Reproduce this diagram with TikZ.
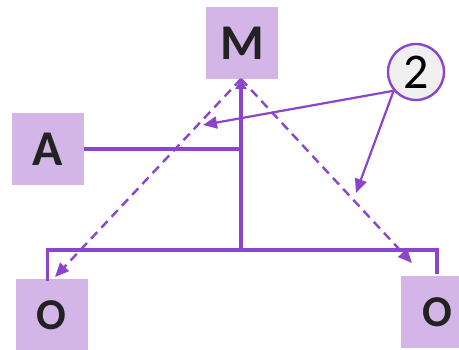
\documentclass[tikz,border=0pt]{standalone}
\usepackage{fontspec}
\setmainfont{Carlito}
\usetikzlibrary{arrows.meta}
\definecolor{pline}{HTML}{8B44CC}
\definecolor{pbox}{HTML}{D3B5E8}
\definecolor{ptext}{HTML}{222222}
\definecolor{cfill}{HTML}{F0F0F0}
\tikzset{
  box/.style={fill=pbox, minimum size=72pt, inner sep=0pt, text=ptext, font=\fontsize{50}{50}\selectfont\bfseries},
  obox/.style={box, font=\fontsize{44}{44}\selectfont\bfseries},
  wire/.style={draw=pline, line width=3.5pt},
  dashline/.style={draw=pline, line width=2.4pt, dash pattern=on 9pt off 6pt, -{Triangle[length=14pt,width=12pt]}},
  callout/.style={draw=pline, line width=2.2pt, -{Triangle[length=14pt,width=12pt]}},
  badge/.style={circle, draw=pline, line width=2.4pt, fill=cfill, minimum size=56pt, inner sep=0pt, text=black, font=\fontsize{50}{50}\selectfont}
}
\begin{document}
\begin{tikzpicture}[x=1pt,y=-1pt]
\useasboundingbox (0,0) rectangle (459,350);
\begin{scope}
\clip (0,0) rectangle (459,350);
\node[box] (M) at (242,43) {M};
\node[box] (A) at (47.5,149.5) {A};
\node[obox] (O1) at (51.5,315) {O};
\node[obox] (O2) at (437,312) {O};
\node[badge] (c) at (416,72) {2};
\coordinate (top) at (241,79);
\coordinate (junA) at (241,149);
\coordinate (bus) at (241,250);
\coordinate (busL) at (47.5,250);
\coordinate (busR) at (437,250);
\coordinate (tipL) at (55,277);
\coordinate (tipR) at (412,263);
\coordinate (tipA) at (203,125);
\coordinate (tipB) at (356,193);
% wires
\draw[wire] (A.east |- junA) -- (junA);
\draw[wire] ([yshift=-1.75pt]busL |- O1.north) -- (busL) -- (busR) -- ([yshift=1.75pt]busR |- O2.north);
\draw[wire, -{Triangle[length=10pt,width=11pt]}] (bus) -- (top);
% dashed
\draw[dashline] (top) -- (tipL);
\draw[dashline] (top) -- (tipR);
% callouts
\draw[callout] (c.220) -- (tipA);
\draw[callout] (c.220) -- (tipB);
\end{scope}
\end{tikzpicture}
\end{document}
